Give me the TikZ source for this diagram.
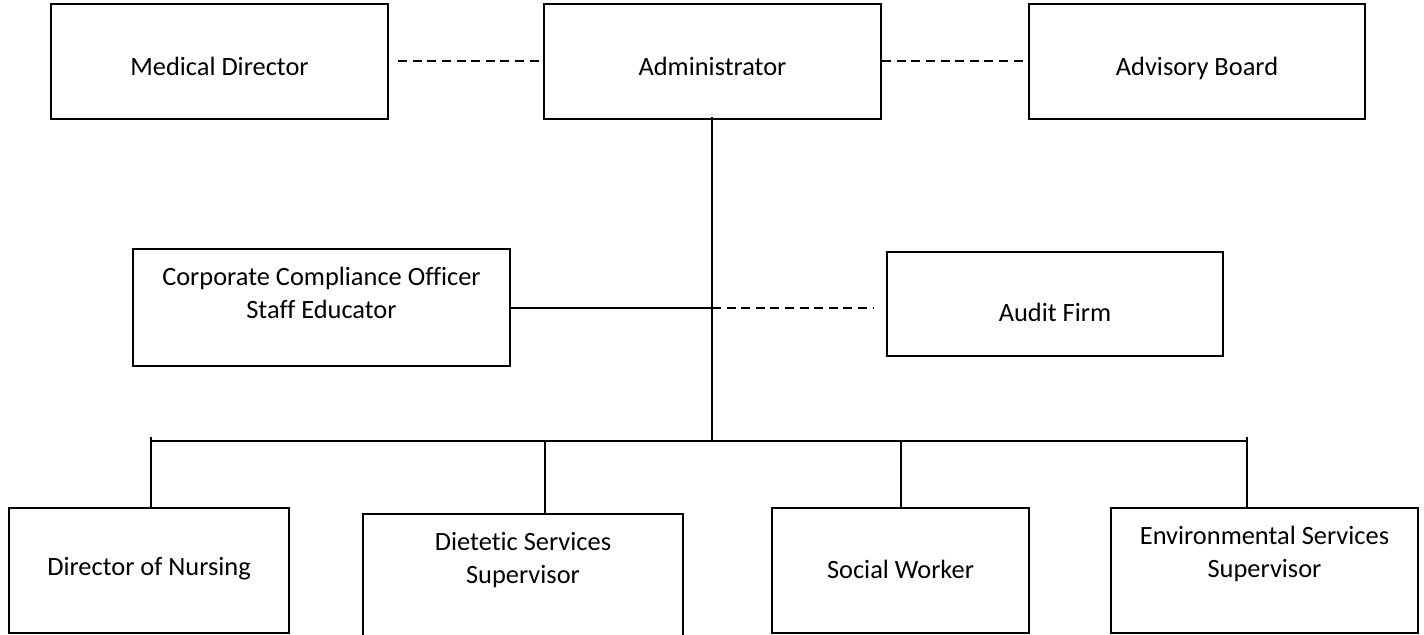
\documentclass[tikz,border=0pt]{standalone}
\usepackage{fontspec}
\setmainfont{Carlito}[Ligatures={NoCommon}]
\begin{document}
\begin{tikzpicture}[x=0.5pt,y=-0.5pt,
  box/.style n args={2}{draw=black, line width=1.2pt, rectangle, inner sep=0pt, minimum width=#1*0.5pt, minimum height=#2*0.5pt},
  txt/.style={font=\fontsize{13.2pt}{16.5pt}\selectfont, align=center, inner sep=0pt},
  solidline/.style={draw=black, line width=0.9pt},
  dashline/.style={draw=black, line width=1pt, dash pattern=on 4.5pt off 2.8pt}]
\useasboundingbox (0,0) rectangle (1424,635);
\fill[white] (0,0) rectangle (1424,635);
\clip (0,0) rectangle (1424,635);
% top row
\node[box={337}{115}] (md) at (219.5,61.5) {};
\node[txt] (mdt) at (219.5,66) {Medical Director};
\node[box={337}{115}] (adm) at (712.5,61.5) {};
\node[txt] (admt) at (712.5,66) {Administrator};
\node[box={336}{115}] (adv) at (1197,61.5) {};
\node[txt] (advt) at (1197,68) {Advisory Board};
% middle row
\node[box={377}{117}] (corp) at (321.5,307.5) {};
\node[txt] (corpt) at (321.5,293) {Corporate Compliance Officer\\Staff Educator};
\node[box={336}{104}] (aud) at (1055,304) {};
\node[txt] (audt) at (1055,312) {Audit Firm};
% bottom row
\node[box={280}{125}] (dn) at (149,570.5) {};
\node[txt] (dnt) at (149,569) {Director of Nursing};
\node[box={320}{150}] (ds) at (523,589) {};
\node[txt] (dst) at (523,560) {Dietetic Services\\Supervisor};
\node[box={257}{125}] (sw) at (900.5,570.5) {};
\node[txt] (swt) at (900.5,569) {Social Worker};
\node[box={307}{125}] (es) at (1264.5,570.5) {};
\node[txt] (est) at (1264.5,553.5) {Environmental Services\\Supervisor};
% coordinates
\coordinate (mid) at (712,308);
\coordinate (bus) at (712,441);
\coordinate (busL) at (151,441);
\coordinate (busR) at (1247,441);
\coordinate (dropA) at (151,437);
\coordinate (dropB) at (545,441);
\coordinate (dropC) at (901,441);
\coordinate (dropD) at (1247,437);
% dashed links at top
\draw[dashline] ([xshift=4.5pt]md.east) -- (adm.west);
\draw[dashline] (adm.east) -- (adv.west);
% trunk
\draw[solidline] ([yshift=1.5pt]adm.south -| bus) -- (bus);
% middle links
\draw[solidline] (corp.east |- mid) -- (mid);
\draw[dashline] (mid) -- ([xshift=-6pt]aud.west |- mid);
% bus and drops
\draw[solidline] (busL) -- (busR);
\draw[solidline] (dropA) -- (dropA |- dn.north);
\draw[solidline] (dropB) -- (dropB |- ds.north);
\draw[solidline] (dropC) -- (dropC |- sw.north);
\draw[solidline] (dropD) -- (dropD |- es.north);
\end{tikzpicture}
\end{document}
